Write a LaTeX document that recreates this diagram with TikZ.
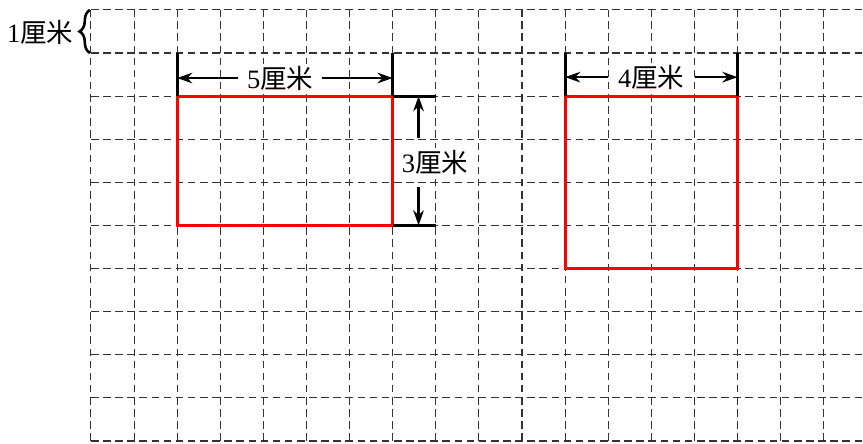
\documentclass[tikz,border=0pt]{standalone}
\usepackage{fontspec}
\setmainfont{Liberation Serif}
\newfontfamily\cjk{Noto Sans CJK SC}
\usetikzlibrary{arrows.meta,positioning,decorations.pathreplacing}

\begin{document}
\begin{tikzpicture}[
    gridline/.style={black!80, line width=0.7pt, dash pattern=on 5pt off 3pt},
    redbox/.style={red, line width=2.1pt},
    endbar/.style={line width=2.1pt},
    dimarrow/.style={-{Stealth[length=10pt, width=7pt]}, line width=1.5pt},
    lbl/.style={fill=white, inner sep=1pt, font=\fontsize{17.5}{21}\selectfont}
  ]
    \useasboundingbox (-2.11, -0.05) rectangle (17.91, 10.23);

    \foreach \x in {0,...,17}
      \draw[gridline] (\x, 0) -- (\x, 10);
    \foreach \y in {0,...,10}
      \draw[gridline] (0, \y) -- (17.91, \y);

    \draw[redbox] (2, 5) rectangle (7, 8);
    \draw[redbox] (11, 4) rectangle (15, 8);

    % 5 cm
    \draw[endbar] (2, 8) -- (2, 9);
    \draw[endbar] (7, 8) -- (7, 9);
    \node[lbl] (w5) at (4.39, 8.42) {5{\cjk 厘米}};
    \coordinate (w5a) at (3.41, 8.42);
    \coordinate (w5b) at (5.36, 8.42);
    \coordinate (w5l) at (2, 8.42);
    \coordinate (w5r) at (7, 8.42);
    \draw[dimarrow] (w5a) -- (w5l);
    \draw[dimarrow] (w5b) -- (w5r);

    % 3 cm
    \draw[endbar] (7, 8) -- (8, 8);
    \draw[endbar] (7, 5) -- (8, 5);
    \node[lbl] (h3) at (7.98, 6.47) {3{\cjk 厘米}};
    \coordinate (h3a) at (7.6, 7.03);
    \coordinate (h3b) at (7.6, 5.9);
    \coordinate (h3t) at (7.6, 8);
    \coordinate (h3d) at (7.6, 5);
    \draw[dimarrow] (h3a) -- (h3t);
    \draw[dimarrow] (h3b) -- (h3d);

    % 4 cm
    \draw[endbar] (11, 8) -- (11, 9);
    \draw[endbar] (15, 8) -- (15, 9);
    \node[lbl] (w4) at (13, 8.44) {4{\cjk 厘米}};
    \coordinate (w4a) at (12.0, 8.44);
    \coordinate (w4b) at (14.01, 8.44);
    \coordinate (w4l) at (11, 8.44);
    \coordinate (w4r) at (15, 8.44);
    \draw[dimarrow] (w4a) -- (w4l);
    \draw[dimarrow] (w4b) -- (w4r);

    % 1 cm
    \draw[decorate, decoration={brace, amplitude=7pt}, line width=1.7pt] (-0.02, 9) -- (-0.02, 10);
    \node[lbl, anchor=east, inner sep=0pt] (u1) at (-0.4, 9.47) {1{\cjk 厘米}};
  \end{tikzpicture}
\end{document}
